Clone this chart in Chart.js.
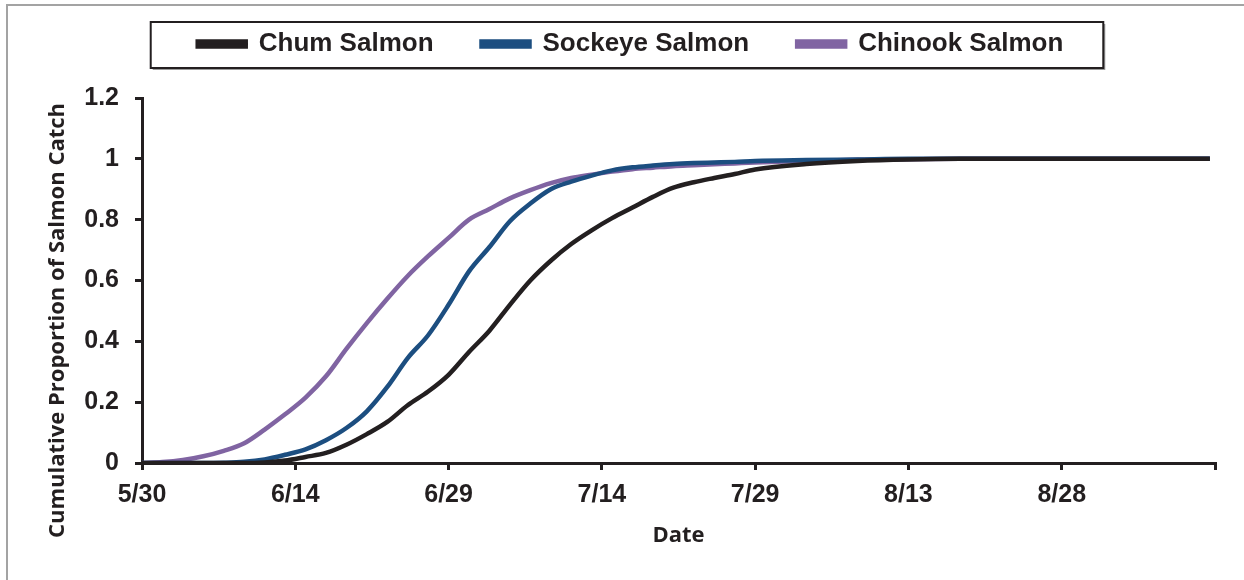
<!DOCTYPE html>
<html>
<head>
<meta charset="utf-8">
<script src="https://cdn.jsdelivr.net/npm/chart.js@4.4.1/dist/chart.umd.min.js"></script>
<style>
body{margin:0;background:#fff;overflow:hidden;}
#frame{position:absolute;left:6px;top:4px;width:1260px;height:600px;border:2px solid #a3a3a3;}
#wrap{position:absolute;left:0;top:0;width:1244px;height:580px;}
</style>
</head>
<body>
<div id="frame"></div>
<div id="wrap"><canvas id="chart1"></canvas></div>
<script>
// days since 5/30
const days = [0,2,4,6,8,10,12,14,16,18,20,22,24,26,28,30,32,34,36,38,40,42,44,46,48,50,52,54,56,58,60,65,70,75,80,90,104.5]

const chum = [0,0,0,0,0,0,0.002,0.008,0.02,0.033,0.06,0.095,0.135,0.19,0.235,0.29,0.365,0.435,0.52,0.6,0.665,0.72,0.765,0.805,0.84,0.875,0.905,0.923,0.937,0.95,0.965,0.983,0.993,0.998,1,1,1]
const sockeye = [0,0,0,0,0.001,0.004,0.012,0.027,0.045,0.075,0.115,0.17,0.25,0.345,0.42,0.52,0.63,0.71,0.795,0.853,0.9,0.925,0.945,0.962,0.972,0.978,0.983,0.986,0.988,0.99,0.993,0.996,0.998,1,1,1,1]
const chinook = [0,0.003,0.01,0.022,0.04,0.065,0.11,0.16,0.215,0.285,0.375,0.46,0.54,0.615,0.68,0.74,0.8,0.835,0.87,0.897,0.92,0.937,0.948,0.958,0.966,0.971,0.976,0.979,0.982,0.985,0.988,0.993,0.997,0.999,1,1,1]

const tickLabels = ["5/30","6/14","6/29","7/14","7/29","8/13","8/28",""]

const series = [
 {name:"Chum Salmon", values:chum, color:"#231f20"},
 {name:"Sockeye Salmon", values:sockeye, color:"#1c4e80"},
 {name:"Chinook Salmon", values:chinook, color:"#8064a2"},
]

const ink = "#231f20"
Chart.defaults.font.family = "'Liberation Sans', Arial, sans-serif"
Chart.defaults.color = ink

// box round the legend, like the Excel one; also leaves room under it
const legendBox = {
  id:"legendBox",
  beforeLayout(chart){
    const lg = chart.legend
    if(lg && !lg._patched){
      const fit = lg.fit
      lg.fit = function(){ fit.call(this); this.height += 31 }
      lg._patched = true
    }
  },
  afterLayout(chart){
    // legend sits a bit right of the canvas middle
    chart.legend.left += 19
    chart.legend.right += 19
  },
  beforeDraw(chart){
    const hb = chart.legend.legendHitBoxes
    if(!hb || !hb.length) return
    const l = Math.min(...hb.map(h=>h.left)) - 47
    const r = Math.max(...hb.map(h=>h.left+h.width)) + 40
    const cy = hb[0].top + hb[0].height/2
    const ctx = chart.ctx
    ctx.save()
    ctx.fillStyle = "#9a9a9a"
    ctx.fillRect(l+2, cy-22+2, r-l, 46)
    ctx.fillStyle = "#fff"
    ctx.fillRect(l, cy-22, r-l, 46)
    ctx.strokeStyle = ink
    ctx.lineWidth = 2
    ctx.strokeRect(l, cy-22, r-l, 46)
    ctx.restore()
  }
}

// y title sits lower than the plot middle in the original, padded with trailing spaces
const yTitle = "Cumulative Proportion of Salmon Catch" + " ".repeat(14)

new Chart(document.getElementById("chart1"), {
  type:'line',
  data:{
    datasets: series.map(s=>({
      label:s.name,
      data: days.map((d,i)=>({x:d, y:s.values[i]})),
      borderColor:s.color,
      backgroundColor:s.color,
      borderWidth:4.5,
      pointRadius:0,
      cubicInterpolationMode:'monotone',
      fill:false
    }))
  },
  options:{
    animation:false,
    responsive:true,
    maintainAspectRatio:false,
    layout:{padding:{top:-17,right:29,left:8,bottom:0}},
    plugins:{
      tooltip:{enabled:false},
      legend:{
        display:true,
        position:'top',
        labels:{
          boxWidth:48,
          boxHeight:5,
          padding:48,
          font:{size:26, weight:'bold'},
          color:ink
        }
      }
    },
    scales:{
      x:{
        type:'linear',
        min:0, max:105,
        afterFit:(s)=>{ s.height = 117 },
        ticks:{
          stepSize:15,
          autoSkip:false,
          maxRotation:0,
          padding:10,
          font:{size:25, weight:'bold'},
          color:ink,
          callback:(v)=>tickLabels[Math.round(v/15)]
        },
        grid:{drawOnChartArea:false, color:ink, lineWidth:3, tickLength:7},
        border:{display:true, color:ink, width:3},
        title:{display:true, text:"Date", font:{size:22, weight:'bold', family:"'Open Sans', sans-serif"}, color:ink, padding:{top:4,bottom:31}}
      },
      y:{
        min:0, max:1.2,
        afterFit:(s)=>{ s.width = 134 },
        ticks:{
          stepSize:0.2,
          padding:16,
          font:{size:25, weight:'bold'},
          color:ink,
          callback:(v)=>String(Number(v.toFixed(1)))
        },
        grid:{drawOnChartArea:false, color:ink, lineWidth:3, tickLength:7},
        border:{display:true, color:ink, width:3},
        title:{display:true, text:yTitle, font:{size:22, weight:'bold', family:"'Open Sans', sans-serif"}, color:ink, padding:{top:37,bottom:4}}
      }
    }
  },
  plugins:[legendBox]
})
</script>
</body>
</html>
